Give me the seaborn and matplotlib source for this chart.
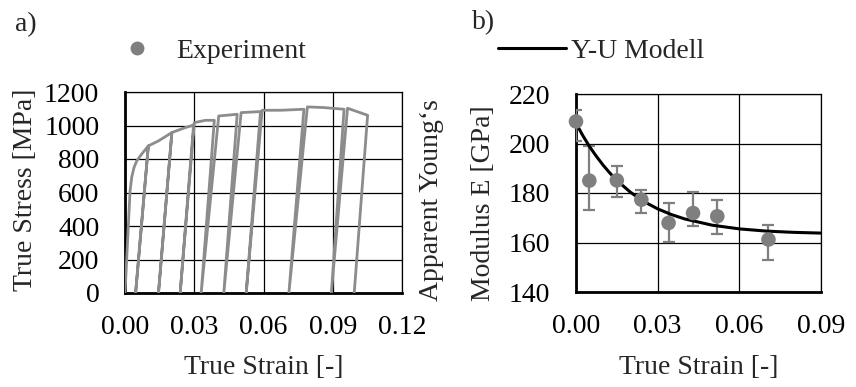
import matplotlib
matplotlib.use("Agg")
import matplotlib.pyplot as plt
import seaborn as sns
import pandas as pd
from matplotlib.lines import Line2D

# ---------------- data ----------------
# a) cyclic loading / unloading curve (true strain, true stress in MPa)
stress_strain_x = [0.0, 0.0022, 0.0029, 0.0039, 0.0051, 0.0072, 0.0101, 0.0046, 0.0101,
                   0.0145, 0.0203, 0.0145, 0.0203, 0.0254, 0.0297, 0.0239, 0.0300,
                   0.0348, 0.0387, 0.0330, 0.0406, 0.0486, 0.0428, 0.0503,
                   0.0587, 0.0525, 0.0594, 0.0674, 0.0775, 0.0710, 0.0790,
                   0.0862, 0.0949, 0.0894, 0.0964, 0.1051, 0.0993]
stress_strain_y = [0, 610, 690, 749, 789, 829, 878, 0, 878,
                   908, 958, 0, 958, 984, 1003, 0, 1017,
                   1031, 1031, 0, 1057, 1067, 0, 1077,
                   1083, 0, 1091, 1091, 1097, 0, 1111,
                   1107, 1097, 0, 1103, 1061, 0]

# b) apparent Young's modulus (experiment) with error bars
exp_strain = [0.0, 0.0049, 0.0150, 0.0240, 0.0340, 0.0430, 0.0519, 0.0707]
exp_modulus = [208.9, 185.0, 185.1, 177.3, 167.9, 171.9, 170.6, 161.2]
exp_err_low = [7.8, 11.7, 6.7, 5.4, 7.6, 5.3, 7.0, 8.4]
exp_err_high = [4.7, 13.8, 5.9, 4.0, 8.1, 8.5, 6.7, 6.0]

# b) Y-U model curve (read off the picture)
model_strain = [0.0, 0.0025, 0.005, 0.0075, 0.010, 0.0125, 0.015, 0.020, 0.025,
                0.030, 0.035, 0.040, 0.050, 0.060, 0.070, 0.080, 0.090]
model_modulus = [208.2, 203.2, 198.7, 194.8, 191.2, 188.0, 185.1, 180.3, 176.5,
                 173.6, 171.3, 169.5, 167.0, 165.5, 164.6, 164.1, 163.8]

left_xticks = [0.00, 0.03, 0.06, 0.09, 0.12]
left_yticks = [0, 200, 400, 600, 800, 1000, 1200]
right_xticks = [0.00, 0.03, 0.06, 0.09]
right_yticks = [140, 160, 180, 200, 220]

# ---------------- style ----------------
sns.set_theme(style="white")
plt.rcParams["font.family"] = ["Liberation Serif", "DejaVu Serif"]
plt.rcParams["mathtext.fontset"] = "custom"
FS = 20

curve_grey = "#8c8c8c"
pt_grey = "#7f7f7f"

fig = plt.figure(figsize=(8.56, 3.87), dpi=100)
W, H = 856, 387


def add_axes_px(l, r, t, b):
    return fig.add_axes([l / W, 1 - b / H, (r - l) / W, (b - t) / H])


axL = add_axes_px(125, 402, 92, 293)
axR = add_axes_px(576, 821, 94, 292)

df_ss = pd.DataFrame({"strain": stress_strain_x, "stress": stress_strain_y})
sns.lineplot(data=df_ss, x="strain", y="stress", sort=False, estimator=None,
             color=curve_grey, lw=2.0, ax=axL, zorder=3)

df_exp = pd.DataFrame({"strain": exp_strain, "E": exp_modulus})
df_mod = pd.DataFrame({"strain": model_strain, "E": model_modulus})
axR.errorbar(exp_strain, exp_modulus, yerr=[exp_err_low, exp_err_high], fmt="none",
             ecolor=pt_grey, elinewidth=1.6, capsize=4.5, capthick=1.6, zorder=3)
sns.lineplot(data=df_mod, x="strain", y="E", sort=False, estimator=None,
             color="black", lw=2.2, ax=axR, zorder=4)
sns.scatterplot(data=df_exp, x="strain", y="E", color=pt_grey, s=110,
                edgecolor="none", ax=axR, zorder=5, clip_on=False)

for ax, xt, yt, xl, yl in [(axL, left_xticks, left_yticks, (0, 0.12), (0, 1200)),
                           (axR, right_xticks, right_yticks, (0, 0.09), (140, 220))]:
    ax.set_xlim(*xl)
    ax.set_ylim(*yl)
    ax.set_xticks(xt)
    ax.set_yticks(yt)
    ax.set_xticklabels([f"{v:.2f}" for v in xt], fontsize=FS)
    ax.set_yticklabels([f"{v:d}" for v in yt], fontsize=FS)
    ax.grid(True, color="black", lw=0.9)
    ax.set_axisbelow(True)
    for s in ["top", "right"]:
        ax.spines[s].set_color("black")
        ax.spines[s].set_linewidth(0.9)
    for s in ["left", "bottom"]:
        ax.spines[s].set_color("black")
        ax.spines[s].set_linewidth(2.0)
    ax.tick_params(axis="both", direction="inout", length=7, width=1.6, color="black",
                   labelcolor="black")
    ax.tick_params(axis="y", pad=15)
    ax.tick_params(axis="x", pad=12)
    ax.set_xlabel("True Strain [-]", fontsize=FS, va="center")
    ax.set_ylabel("")

axL.xaxis.set_label_coords(0.5, (293 - 368) / 201)
axR.xaxis.set_label_coords(0.5, (292 - 368) / 198)
axL.set_ylabel("True Stress [MPa]", fontsize=FS, va="center")
axL.yaxis.set_label_coords((26 - 125) / 277, (293 - 190) / 201)

fig.text(431 / W, 1 - 301 / H, "Apparent Young‘s", rotation=90, fontsize=FS,
         ha="center", va="bottom")
fig.text(484 / W, 1 - 301 / H, "Modulus E [GPa]", rotation=90, fontsize=FS,
         ha="center", va="bottom")

fig.text(15 / W, 1 - 25 / H, "a)", fontsize=FS, ha="left", va="center")
fig.text(472 / W, 1 - 23 / H, "b)", fontsize=FS, ha="left", va="center")

handles = [Line2D([], [], ls="none", marker="o", ms=10, color=pt_grey, mec="none"),
           Line2D([], [], color="black", lw=2.2)]
fig.legend(handles, ["Experiment", "Y-U Modell"], ncol=2, loc="center left",
           bbox_to_anchor=(103 / W, 1 - 51 / H), frameon=False, fontsize=FS,
           handlelength=2.45, handletextpad=0.18, columnspacing=6.9,
           borderpad=0, borderaxespad=0)

fig.savefig("out.png", dpi=100)
